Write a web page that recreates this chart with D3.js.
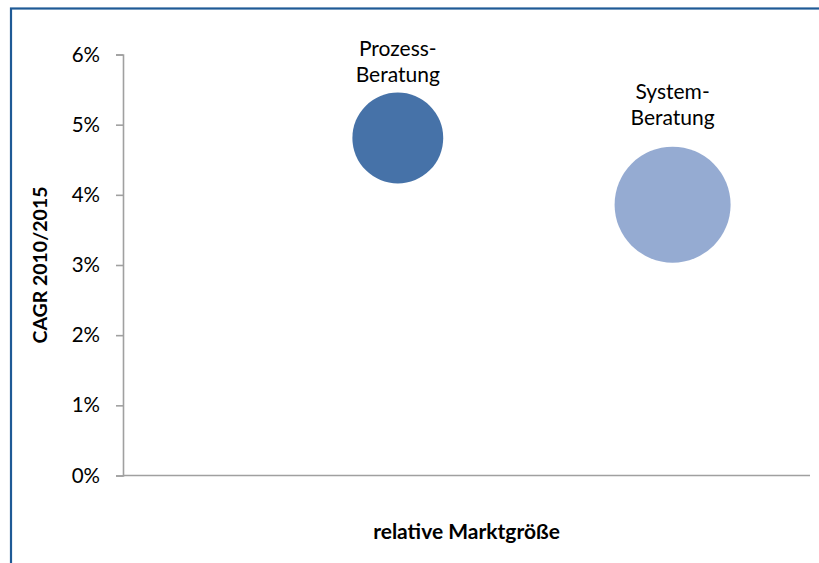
<!DOCTYPE html>
<html>
<head>
<meta charset="utf-8">
<script src="https://cdn.jsdelivr.net/npm/d3@7"></script>
<style>
  body { margin: 0; background: #fff; }
  svg { display: block; font-family: Lato, "Open Sans", sans-serif; }
</style>
</head>
<body>
<svg id="chart" width="819" height="563"></svg>
<script>
// data
var segments = ["Prozess-\nBeratung", "System-\nBeratung"];
var marketSize = [0.40, 0.80];      // relative Marktgröße (x)
var cagr = [0.0481, 0.0386];        // CAGR 2010/2015 (y)
var bubbleSize = [1.0, 1.63];       // bubble size
var yTicks = [0, 0.01, 0.02, 0.03, 0.04, 0.05, 0.06];
var colors = ["#4672a8", "#95abd2"];
var labelGap = [11, 22];            // gap between label and bubble top

var svg = d3.select("#chart");

var margin = {left: 123, right: 9, top: 54.5, bottom: 87.5};
var width = 819 - margin.left - margin.right;
var height = 563 - margin.top - margin.bottom;

// outer frame (runs past the right and bottom edge)
svg.append("rect")
  .attr("x", 11)
  .attr("y", 8.5)
  .attr("width", 830)
  .attr("height", 580)
  .attr("fill", "none")
  .attr("stroke", "#1f5a96")
  .attr("stroke-width", 2.2);

var g = svg.append("g")
  .attr("transform", "translate(" + margin.left + "," + margin.top + ")");

var x = d3.scaleLinear().domain([0, 1]).range([0, width]);
var y = d3.scaleLinear().domain([0, 0.06]).range([height, 0]);
var r = d3.scaleSqrt().domain([0, d3.max(bubbleSize)]).range([0, 58]);

// y axis
var yAxis = g.append("g")
  .attr("class", "axis axis--y")
  .call(d3.axisLeft(y).tickValues(yTicks).tickFormat(d3.format(".0%")).tickSize(7).tickPadding(16));
yAxis.select(".domain").attr("stroke", "#a0a0a0").attr("stroke-width", 1.6);
yAxis.selectAll(".tick line").attr("stroke", "#a0a0a0").attr("stroke-width", 1.6);
yAxis.selectAll(".tick text")
  .attr("fill", "#000")
  .style("font-size", "20.5px")
  .style("font-family", "Lato, sans-serif");

// x axis (no ticks)
g.append("line")
  .attr("x1", 0)
  .attr("x2", width)
  .attr("y1", height)
  .attr("y2", height)
  .attr("stroke", "#a0a0a0")
  .attr("stroke-width", 1.6);

// bubbles
g.selectAll("circle.bubble")
  .data(segments)
  .enter()
  .append("circle")
  .attr("class", "bubble")
  .attr("cx", function (d, i) { return x(marketSize[i]); })
  .attr("cy", function (d, i) { return y(cagr[i]); })
  .attr("r", function (d, i) { return r(bubbleSize[i]); })
  .attr("fill", function (d, i) { return colors[i]; });

// labels above the bubbles
var labels = g.selectAll("text.label")
  .data(segments)
  .enter()
  .append("text")
  .attr("class", "label")
  .attr("text-anchor", "middle")
  .attr("fill", "#000")
  .style("font-size", "21px");

labels.each(function (d, i) {
  var lines = d.split("\n");
  var base = y(cagr[i]) - r(bubbleSize[i]) - labelGap[i];
  var t = d3.select(this);
  lines.forEach(function (line, j) {
    t.append("tspan")
      .attr("x", x(marketSize[i]))
      .attr("y", base - (lines.length - 1 - j) * 26)
      .text(line);
  });
});

// axis titles
svg.append("text")
  .attr("text-anchor", "middle")
  .attr("transform", "translate(47," + (margin.top + height / 2) + ") rotate(-90)")
  .style("font-size", "19.5px")
  .style("font-weight", "bold")
  .text("CAGR 2010/2015");

svg.append("text")
  .attr("x", margin.left + width / 2)
  .attr("y", 539)
  .attr("text-anchor", "middle")
  .style("font-size", "21px")
  .style("font-weight", "bold")
  .text("relative Marktgröße");
</script>
</body>
</html>
